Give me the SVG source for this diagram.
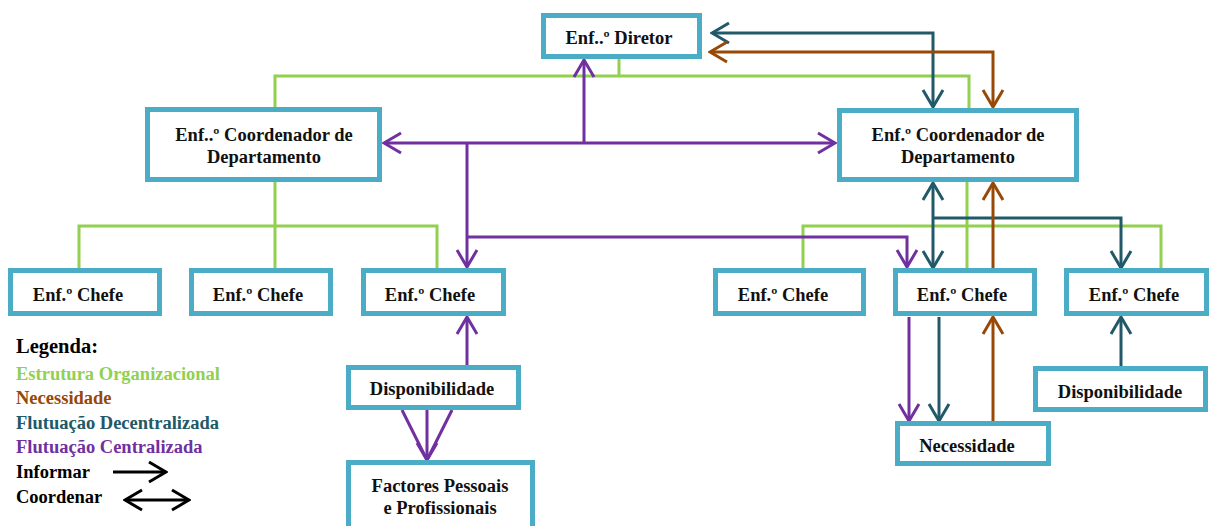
<svg xmlns="http://www.w3.org/2000/svg" width="1210" height="526" viewBox="0 0 1210 526">
<style>
.box{fill:#fff;stroke:#4BACC6;stroke-width:5}
.t{font-family:"Liberation Serif","Times New Roman",serif;font-weight:bold;font-size:18.5px;fill:#111;text-anchor:middle}
.lg{font-family:"Liberation Serif","Times New Roman",serif;font-weight:bold;font-size:18.5px}
.lgt{font-size:20.5px}
.c{fill:none;stroke-width:3}
.g{stroke:#92D050}
.b{stroke:#984807}
.d{stroke:#215968}
.p{stroke:#7030A0}
.k{stroke:#000}
</style>
<defs>
<marker id="ab" viewBox="-20 -12 22 24" refX="0" refY="0" markerUnits="userSpaceOnUse" markerWidth="22" markerHeight="24" orient="auto-start-reverse"><path d="M-17,-10 L0,0 L-17,10" fill="none" stroke="#984807" stroke-width="3"/></marker>
<marker id="ad" viewBox="-20 -12 22 24" refX="0" refY="0" markerUnits="userSpaceOnUse" markerWidth="22" markerHeight="24" orient="auto-start-reverse"><path d="M-17,-10 L0,0 L-17,10" fill="none" stroke="#215968" stroke-width="3"/></marker>
<marker id="ap" viewBox="-20 -12 22 24" refX="0" refY="0" markerUnits="userSpaceOnUse" markerWidth="22" markerHeight="24" orient="auto-start-reverse"><path d="M-17,-10 L0,0 L-17,10" fill="none" stroke="#7030A0" stroke-width="3"/></marker>
<marker id="ak" viewBox="-20 -12 22 24" refX="0" refY="0" markerUnits="userSpaceOnUse" markerWidth="22" markerHeight="24" orient="auto-start-reverse"><path d="M-17,-10 L0,0 L-17,10" fill="none" stroke="#000" stroke-width="3"/></marker>
<clipPath id="cDir"><rect x="546" y="18" width="151" height="36"/></clipPath>
<clipPath id="cDispR"><rect x="1038" y="371" width="165" height="36"/></clipPath>
</defs>
<rect width="1210" height="526" fill="#fff"/>

<g id="connectors">
<path class="c g" d="M619,59 V76 M275,107 V76 H969 V108"/>
<path class="c g" d="M275,182 V268 M79,268 V226 H437 V268"/>
<path class="c g" d="M967,182 V269 M803,269 V226 H1161 V269"/>
<path class="c d" d="M712,33 H933 V107" marker-start="url(#ad)" marker-end="url(#ad)"/>
<path class="c d" d="M933,183 V268" marker-start="url(#ad)" marker-end="url(#ad)"/>
<path class="c d" d="M933,218 H1121 V268" marker-end="url(#ad)"/>
<path class="c d" d="M939,317 V421" marker-end="url(#ad)"/>
<path class="c d" d="M1121,366 V317" marker-end="url(#ad)"/>
<path class="c b" d="M710,52 H993 V107" marker-start="url(#ab)" marker-end="url(#ab)"/>
<path class="c b" d="M993,269 V183" marker-end="url(#ab)"/>
<path class="c b" d="M993,421 V317" marker-end="url(#ab)"/>
<path class="c p" d="M384,143 H835" marker-start="url(#ap)" marker-end="url(#ap)"/>
<path class="c p" d="M584,143 V60" marker-end="url(#ap)"/>
<path class="c p" d="M467,143 V267" marker-end="url(#ap)"/>
<path class="c p" d="M467,237 H907 V267" marker-end="url(#ap)"/>
<path class="c p" d="M467,365 V317" marker-end="url(#ap)"/>
<path class="c p" d="M909,317 V421" marker-end="url(#ap)"/>
<path class="c p" d="M402,410 L427,460 M452,410 L427,460"/>
<path class="c p" d="M427,410 V460" marker-end="url(#ap)"/>
</g>

<g id="n-diretor"><rect class="box" x="543.5" y="15.5" width="156" height="41"/><text class="t" x="619" y="44" clip-path="url(#cDir)">Enf..º Diretor</text></g>
<g id="n-coord-left"><rect class="box" x="147.5" y="109.5" width="232" height="70"/><text class="t" x="264" y="141">Enf..º Coordenador de</text><text class="t" x="264" y="163">Departamento</text></g>
<g id="n-coord-right"><rect class="box" x="839.5" y="110.5" width="237" height="69"/><text class="t" x="958" y="141">Enf.º Coordenador de</text><text class="t" x="958" y="163">Departamento</text></g>
<g id="n-chefe1"><rect class="box" x="10.5" y="270.5" width="149" height="43"/><text class="t" x="78" y="301">Enf.º Chefe</text></g>
<g id="n-chefe2"><rect class="box" x="191.5" y="270.5" width="139" height="43"/><text class="t" x="258" y="301">Enf.º Chefe</text></g>
<g id="n-chefe3"><rect class="box" x="363.5" y="270.5" width="140" height="43"/><text class="t" x="430" y="301">Enf.º Chefe</text></g>
<g id="n-chefe4"><rect class="box" x="715.5" y="270.5" width="148" height="43"/><text class="t" x="783" y="301">Enf.º Chefe</text></g>
<g id="n-chefe5"><rect class="box" x="895.5" y="270.5" width="139" height="43"/><text class="t" x="962" y="301">Enf.º Chefe</text></g>
<g id="n-chefe6"><rect class="box" x="1066.5" y="270.5" width="140" height="43"/><text class="t" x="1134" y="301">Enf.º Chefe</text></g>
<g id="n-disp-left"><rect class="box" x="348.5" y="367.5" width="170" height="40"/><text class="t" x="432" y="395">Disponibilidade</text></g>
<g id="n-factores"><rect class="box" x="348.5" y="462.5" width="184" height="70"/><text class="t" x="440" y="492">Factores Pessoais</text><text class="t" x="440" y="514">e Profissionais</text></g>
<g id="n-necessidade"><rect class="box" x="897.5" y="423.5" width="151" height="40"/><text class="t" x="967" y="452">Necessidade</text></g>
<g id="n-disp-right"><rect class="box" x="1035.5" y="368.5" width="170" height="41"/><text class="t" x="1120" y="398" clip-path="url(#cDispR)">Disponibilidade</text></g>

<g id="legend">
<text class="lg lgt" x="16" y="353" fill="#000">Legenda:</text>
<text class="lg" x="16" y="380" fill="#92D050">Estrutura Organizacional</text>
<text class="lg" x="16" y="404" fill="#984807">Necessidade</text>
<text class="lg" x="16" y="429" fill="#215968">Flutuação Decentralizada</text>
<text class="lg" x="16" y="453" fill="#7030A0">Flutuação Centralizada</text>
<text class="lg" x="16" y="478" fill="#000">Informar</text>
<text class="lg" x="16" y="503" fill="#000">Coordenar</text>
<path class="c k" d="M113,472 H166" marker-end="url(#ak)"/>
<path class="c k" d="M125,500 H189" marker-start="url(#ak)" marker-end="url(#ak)"/>
</g>
</svg>
